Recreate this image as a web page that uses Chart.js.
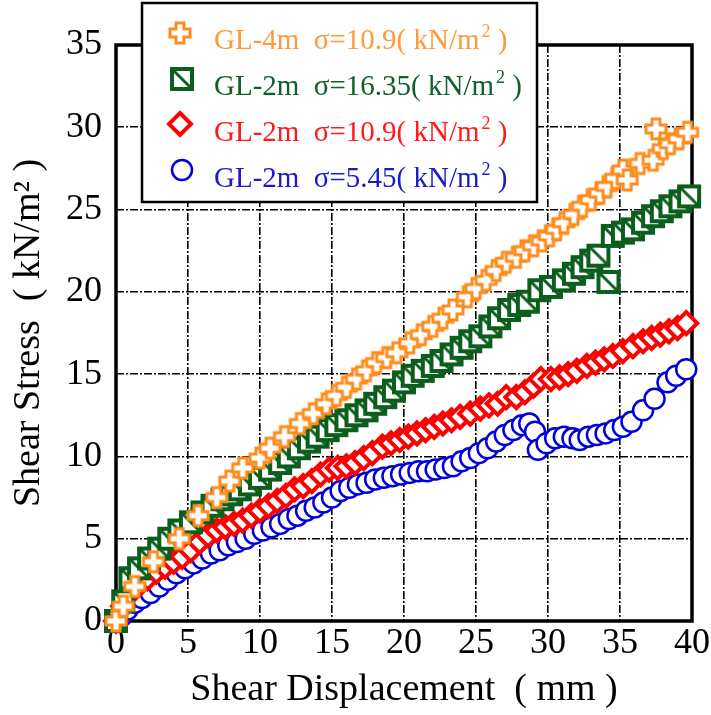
<!DOCTYPE html>
<html>
<head>
<meta charset="utf-8">
<script src="https://cdn.jsdelivr.net/npm/chart.js@4.4.1/dist/chart.umd.min.js"></script>
<style>
  html, body { margin: 0; padding: 0; background: #fff; }
  #wrap { width: 711px; height: 715px; }
</style>
</head>
<body>
<div id="wrap"><canvas id="shear-chart" width="711" height="715"></canvas></div>
<script>
// shear displacement (mm) / shear stress (kN/m2)
const xOrange = [0, 0.5, 1.3, 2.6, 4.4, 5.7, 7.0, 7.9, 8.8, 10.0, 10.7, 11.7, 12.8, 13.7, 14.6, 15.3, 16.0, 16.7, 17.4, 18.1, 18.8, 19.5, 20.4, 21.2, 22.0, 22.7, 23.4, 24.4, 25.0, 25.7, 26.4, 27.1, 27.8, 28.4, 29.0, 29.6, 30.1, 30.6, 31.1, 31.8, 32.4, 33.0, 33.6, 34.1, 34.7, 35.2, 35.5, 36.4, 37.3, 37.5, 38.0, 38.5, 39.1, 39.7];
const yOrange = [0, 0.9, 2.1, 3.6, 5.0, 6.4, 7.5, 8.5, 9.3, 9.9, 10.5, 11.2, 12.0, 12.6, 13.2, 13.7, 14.2, 14.7, 15.2, 15.7, 16.0, 16.3, 16.9, 17.4, 17.9, 18.4, 18.9, 19.7, 20.2, 20.7, 21.3, 21.8, 22.1, 22.5, 22.8, 23.1, 23.4, 23.8, 24.2, 24.7, 25.2, 25.6, 26.0, 26.4, 26.9, 27.4, 26.8, 27.8, 28.0, 29.9, 28.7, 29.0, 29.3, 29.7];

const xGreen = [0, 0.5, 1.0, 1.6, 2.3, 3.0, 3.7, 4.4, 5.2, 6.0, 6.7, 7.4, 8.0, 8.6, 9.3, 10.0, 10.7, 11.4, 12.0, 12.7, 13.4, 14.0, 14.7, 15.3, 16.0, 16.7, 17.4, 18.0, 18.7, 19.3, 20.0, 20.6, 21.3, 22.0, 22.6, 23.3, 24.0, 24.6, 25.3, 26.0, 26.6, 27.3, 28.0, 28.6, 29.4, 30.2, 31.1, 31.8, 32.4, 33.0, 33.5, 34.2, 34.5, 35.2, 35.9, 36.6, 37.3, 37.9, 38.5, 39.2, 39.8];
const yGreen = [0, 1.2, 2.6, 3.2, 3.8, 4.4, 5.0, 5.5, 6.0, 6.6, 7.0, 7.4, 7.7, 8.0, 8.3, 8.7, 9.2, 9.6, 10.0, 10.5, 10.9, 11.2, 11.6, 11.9, 12.2, 12.5, 12.8, 13.2, 13.6, 14.0, 14.5, 14.9, 15.2, 15.5, 15.8, 16.2, 16.6, 17.0, 17.3, 17.9, 18.4, 18.9, 19.2, 19.4, 20.1, 20.3, 20.7, 21.1, 21.5, 21.9, 22.2, 20.6, 23.4, 23.6, 23.8, 24.2, 24.6, 24.9, 25.2, 25.5, 25.8];

const xRed = [0, 0.5, 1.0, 1.6, 2.2, 2.8, 3.4, 4.0, 4.6, 5.2, 5.8, 6.4, 7.0, 7.6, 8.2, 8.8, 9.4, 10.0, 10.6, 11.2, 11.8, 12.4, 13.0, 13.6, 14.2, 14.8, 15.4, 16.0, 16.6, 17.2, 17.8, 18.5, 19.1, 19.7, 20.3, 20.9, 21.5, 22.1, 22.7, 23.3, 23.9, 24.6, 25.3, 25.9, 26.5, 27.1, 27.8, 28.4, 29.0, 29.5, 30.2, 30.8, 31.4, 32.0, 32.7, 33.3, 33.9, 34.5, 35.2, 35.9, 36.6, 37.2, 37.8, 38.4, 39.0, 39.6];
const yRed = [0, 0.9, 1.7, 2.2, 2.6, 3.0, 3.3, 3.6, 3.9, 4.3, 4.8, 5.2, 5.5, 5.7, 5.9, 6.1, 6.4, 6.7, 7.0, 7.3, 7.6, 8.0, 8.2, 8.5, 8.9, 9.2, 9.3, 9.4, 9.6, 9.9, 10.2, 10.6, 10.8, 11.0, 11.2, 11.4, 11.6, 11.8, 12.0, 12.2, 12.4, 12.6, 12.9, 13.1, 13.2, 13.6, 13.6, 13.9, 14.3, 14.7, 14.7, 14.8, 15.0, 15.2, 15.5, 15.7, 15.9, 16.1, 16.4, 16.7, 17.0, 17.2, 17.4, 17.6, 17.8, 18.1];

const xBlue = [0, 0.4, 0.8, 1.3, 1.8, 2.4, 3.0, 3.6, 4.2, 4.8, 5.4, 6.0, 6.6, 7.2, 7.8, 8.4, 9.0, 9.6, 10.2, 10.8, 11.4, 12.0, 12.6, 13.2, 13.8, 14.4, 15.0, 15.6, 16.2, 16.8, 17.4, 18.0, 18.6, 19.2, 19.8, 20.4, 21.0, 21.6, 22.2, 22.8, 23.4, 24.0, 24.6, 25.2, 25.8, 26.4, 27.0, 27.6, 28.2, 28.7, 29.1, 29.3, 29.9, 30.5, 31.1, 31.7, 32.2, 32.8, 33.4, 34.0, 34.6, 35.2, 35.8, 36.6, 37.4, 38.3, 38.9, 39.6];
const yBlue = [0, 0.3, 0.7, 1.1, 1.4, 1.7, 2.1, 2.5, 2.9, 3.2, 3.5, 3.8, 4.1, 4.3, 4.6, 4.8, 5.0, 5.3, 5.5, 5.7, 5.9, 6.2, 6.4, 6.7, 6.9, 7.2, 7.5, 7.9, 8.1, 8.3, 8.4, 8.6, 8.7, 8.8, 8.9, 9.0, 9.1, 9.1, 9.2, 9.3, 9.4, 9.7, 9.9, 10.2, 10.5, 10.9, 11.3, 11.6, 11.9, 12.0, 11.5, 10.4, 10.8, 11.1, 11.2, 11.1, 11.0, 11.2, 11.3, 11.4, 11.6, 11.8, 12.1, 12.8, 13.5, 14.5, 14.9, 15.3];

const xTicks = [0, 5, 10, 15, 20, 25, 30, 35, 40];
const yTicks = [0, 5, 10, 15, 20, 25, 30, 35];

// legend text pieces: before superscript, superscript, after
const seriesLabels = [
    ['GL-4m  \u03c3=10.9( kN/m', '2', ' )'],
    ['GL-2m  \u03c3=16.35( kN/m', '2', ' )'],
    ['GL-2m  \u03c3=10.9( kN/m', '2', ' )'],
    ['GL-2m  \u03c3=5.45( kN/m', '2', ' )']
];

const SERIF = "'Liberation Serif', 'Times New Roman', 'DejaVu Serif', serif";

const ORANGE = '#ff8c1e';
const GREEN = '#0b5e1b';
const RED = '#ff0000';
const BLUE = '#0000dd';

// hollow plus marker
function makeCross() {
    var c = document.createElement('canvas');
    c.width = 26; c.height = 26;
    var g = c.getContext('2d');
    var m = 13, L = 10, a = 4;
    g.beginPath();
    g.moveTo(m - a, m - L); g.lineTo(m + a, m - L); g.lineTo(m + a, m - a);
    g.lineTo(m + L, m - a); g.lineTo(m + L, m + a); g.lineTo(m + a, m + a);
    g.lineTo(m + a, m + L); g.lineTo(m - a, m + L); g.lineTo(m - a, m + a);
    g.lineTo(m - L, m + a); g.lineTo(m - L, m - a); g.lineTo(m - a, m - a);
    g.closePath();
    g.fillStyle = '#fff';
    g.fill();
    g.lineWidth = 3;
    g.lineJoin = 'miter';
    g.strokeStyle = ORANGE;
    g.stroke();
    return c;
}

// hollow square with a diagonal
function makeBox() {
    var c = document.createElement('canvas');
    c.width = 26; c.height = 26;
    var g = c.getContext('2d');
    g.fillStyle = '#fff';
    g.fillRect(3, 3, 20, 20);
    g.lineWidth = 4;
    g.strokeStyle = GREEN;
    g.strokeRect(3, 3, 20, 20);
    g.lineWidth = 3;
    g.beginPath();
    g.moveTo(4, 4);
    g.lineTo(22, 22);
    g.stroke();
    return c;
}

const crossImg = makeCross();
const boxImg = makeBox();

function toPoints(xs, ys) {
    return xs.map(function (x, i) { return { x: x, y: ys[i] }; });
}

// frame around the plot area, drawn under the markers
const framePlugin = {
    id: 'frame',
    beforeDatasetsDraw: function (chart) {
        var a = chart.chartArea, ctx = chart.ctx;
        ctx.save();
        ctx.lineWidth = 3.5;
        ctx.strokeStyle = '#000';
        ctx.strokeRect(a.left, a.top, a.right - a.left, a.bottom - a.top);
        ctx.restore();
    }
};

// boxed legend in the upper left corner
const legendPlugin = {
    id: 'boxLegend',
    afterDraw: function (chart) {
        var ctx = chart.ctx;
        var textColors = ['#ff9a3c', '#10602a', '#ff1a1a', '#1a1acc'];
        var rowsY = [49, 95, 141, 187];
        var markY = [33, 79, 124, 170];
        ctx.save();
        ctx.fillStyle = '#fff';
        ctx.fillRect(142, 3, 395, 199);
        ctx.lineWidth = 2.5;
        ctx.strokeStyle = '#000';
        ctx.strokeRect(142, 3, 395, 199);

        // markers
        ctx.drawImage(crossImg, 180 - 13, markY[0] - 13);
        ctx.drawImage(boxImg, 182 - 13, markY[1] - 13);
        ctx.beginPath();
        ctx.moveTo(180, markY[2] - 11); ctx.lineTo(191, markY[2]);
        ctx.lineTo(180, markY[2] + 11); ctx.lineTo(169, markY[2]);
        ctx.closePath();
        ctx.fillStyle = '#fff'; ctx.fill();
        ctx.lineWidth = 4; ctx.strokeStyle = RED; ctx.stroke();
        ctx.beginPath();
        ctx.arc(182, markY[3], 10, 0, Math.PI * 2);
        ctx.fillStyle = '#fff'; ctx.fill();
        ctx.lineWidth = 2.5; ctx.strokeStyle = BLUE; ctx.stroke();

        // texts
        ctx.textBaseline = 'alphabetic';
        ctx.textAlign = 'left';
        seriesLabels.forEach(function (parts, i) {
            var x = 214;
            ctx.fillStyle = textColors[i];
            ctx.font = '29px ' + SERIF;
            ctx.fillText(parts[0], x, rowsY[i]);
            x += ctx.measureText(parts[0]).width + 2;
            ctx.font = '18px ' + SERIF;
            ctx.fillText(parts[1], x, rowsY[i] - 12);
            x += ctx.measureText(parts[1]).width;
            ctx.font = '29px ' + SERIF;
            ctx.fillText(parts[2], x, rowsY[i]);
        });
        ctx.restore();
    }
};

const ctx = document.getElementById('shear-chart').getContext('2d');

new Chart(ctx, {
    type: 'scatter',
    data: {
        datasets: [{
            label: seriesLabels[0].join(''),
            data: toPoints(xOrange, yOrange),
            pointStyle: crossImg,
            clip: false
        }, {
            label: seriesLabels[1].join(''),
            data: toPoints(xGreen, yGreen),
            pointStyle: boxImg,
            clip: false
        }, {
            label: seriesLabels[2].join(''),
            data: toPoints(xRed, yRed),
            pointStyle: 'rectRot',
            pointRadius: 11,
            pointBorderWidth: 4,
            borderColor: RED,
            backgroundColor: '#fff',
            clip: false
        }, {
            label: seriesLabels[3].join(''),
            data: toPoints(xBlue, yBlue),
            pointStyle: 'circle',
            pointRadius: 10,
            pointBorderWidth: 2.5,
            borderColor: BLUE,
            backgroundColor: '#fff',
            clip: false
        }]
    },
    options: {
        responsive: false,
        animation: false,
        events: [],
        layout: {
            padding: { left: 0, top: 45, right: 19, bottom: 0 }
        },
        plugins: {
            legend: { display: false },
            tooltip: { enabled: false }
        },
        scales: {
            x: {
                type: 'linear',
                min: 0,
                max: 40,
                afterFit: function (scale) { scale.height = 94; },
                afterBuildTicks: function (scale) {
                    scale.ticks = xTicks.map(function (v) { return { value: v }; });
                },
                ticks: {
                    color: '#000',
                    padding: 1,
                    maxRotation: 0,
                    autoSkip: false,
                    font: { family: SERIF, size: 36 }
                },
                grid: {
                    color: '#000',
                    lineWidth: 1.6,
                    drawTicks: false
                },
                border: { display: false, dash: [8, 2, 2, 2] },
                title: {
                    display: true,
                    text: 'Shear Displacement  ( mm )',
                    color: '#000',
                    padding: { bottom: 2 },
                    font: { family: SERIF, size: 38 }
                }
            },
            y: {
                type: 'linear',
                min: 0,
                max: 35,
                afterFit: function (scale) { scale.width = 116; },
                afterBuildTicks: function (scale) {
                    scale.ticks = yTicks.map(function (v) { return { value: v }; });
                },
                ticks: {
                    color: '#000',
                    padding: 14,
                    autoSkip: false,
                    font: { family: SERIF, size: 36 }
                },
                grid: {
                    color: '#000',
                    lineWidth: 1.6,
                    drawTicks: false
                },
                border: { display: false, dash: [8, 2, 2, 2] },
                title: {
                    display: true,
                    text: 'Shear Stress  ( kN/m\u00b2 )',
                    color: '#000',
                    padding: { top: 6 },
                    font: { family: SERIF, size: 38 }
                }
            }
        }
    },
    plugins: [framePlugin, legendPlugin]
});
</script>
</body>
</html>
